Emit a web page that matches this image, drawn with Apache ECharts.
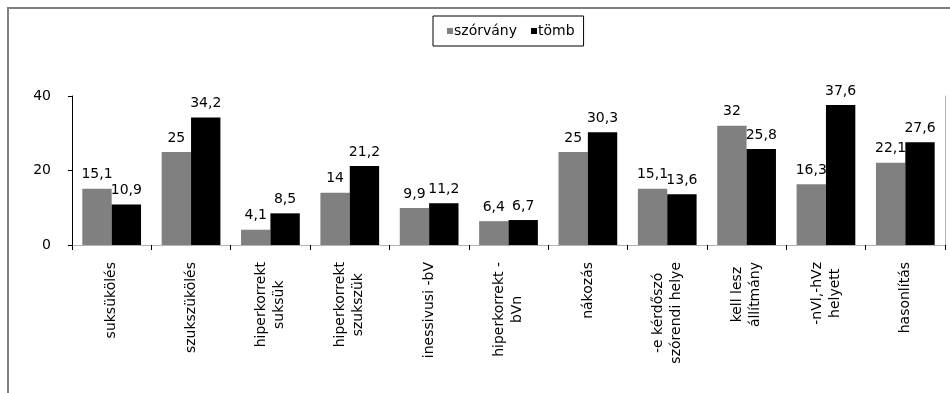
<!DOCTYPE html>
<html>
<head>
<meta charset="utf-8">
<script src="https://cdn.jsdelivr.net/npm/echarts@6/dist/echarts.min.js"></script>
<style>
  html, body { margin: 0; padding: 0; background: #fff; }
  #chart { width: 950px; height: 393px; }
</style>
</head>
<body>
<div id="chart"></div>
<script>
// Categories (line breaks as in the axis labels)
const categories = [
  'suksükölés',
  'szukszükölés',
  'hiperkorrekt\nsuksük',
  'hiperkorrekt\nszukszük',
  'inessivusi -bV',
  'hiperkorrekt -\nbVn',
  'nákozás',
  '-e kérdőszó\nszórendi helye',
  'kell lesz\nállítmány',
  '-nVl,-hVz\nhelyett',
  'hasonlítás'
];

// Series values
const szorvany = [15.1, 25, 4.1, 14, 9.9, 6.4, 25, 15.1, 32, 16.3, 22.1];
const tomb = [10.9, 34.2, 8.5, 21.2, 11.2, 6.7, 30.3, 13.6, 25.8, 37.6, 27.6];

// Value axis ticks
const yTicks = [0, 20, 40];

const FONT = 'DejaVu Sans';
const hu = v => String(v).replace('.', ',');

const chart = echarts.init(document.getElementById('chart'), null, { renderer: 'canvas' });

const valueLabel = {
  show: true,
  position: 'top',
  distance: 7,
  color: '#000',
  fontFamily: FONT,
  fontSize: 14,
  formatter: p => hu(p.value)
};

chart.setOption({
  animation: false,
  backgroundColor: '#fff',
  graphic: [{
    type: 'rect',
    shape: { x: 8, y: 8, width: 960, height: 420 },
    style: { fill: 'none', stroke: '#7f7f7f', lineWidth: 2 },
    silent: true
  }],
  legend: {
    left: 433,
    top: 16,
    padding: [6, 9, 6, 14],
    borderColor: '#000',
    borderWidth: 1,
    itemWidth: 6,
    itemHeight: 6,
    itemGap: 14,
    icon: 'rect',
    textStyle: { fontFamily: FONT, fontSize: 14, color: '#000', lineHeight: 18, padding: [0, 0, 0, -4] },
    data: ['szórvány', 'tömb']
  },
  grid: { left: 72, right: 5, top: 96, bottom: 148 },
  xAxis: [{
    type: 'category',
    data: categories,
    axisLine: { lineStyle: { color: '#000', width: 1 } },
    axisTick: { show: true, length: 5, interval: 0, lineStyle: { color: '#000' } },
    axisLabel: {
      interval: 0,
      rotate: 90,
      margin: 17,
      color: '#000',
      fontFamily: FONT,
      fontSize: 14,
      formatter: v => v.split('\n').map(s => '{c|' + s + '}').join('\n'),
      rich: { c: { align: 'center', fontFamily: FONT, fontSize: 14, lineHeight: 18, color: '#000' } }
    },
    splitLine: { show: false }
  }, {
    type: 'category',
    data: categories,
    position: 'top',
    axisLine: { lineStyle: { color: '#b3b3b3', width: 1 } },
    axisTick: { show: false },
    axisLabel: { show: false }
  }],
  yAxis: [{
    type: 'value',
    min: 0,
    max: 40,
    interval: 20,
    axisLine: { show: true, lineStyle: { color: '#000', width: 1 } },
    axisTick: { show: true, length: 4, lineStyle: { color: '#000' } },
    axisLabel: {
      margin: 21,
      color: '#000',
      fontFamily: FONT,
      fontSize: 14,
      formatter: v => (yTicks.includes(v) ? String(v) : '')
    },
    splitLine: { show: false }
  }, {
    type: 'value',
    position: 'right',
    min: 0,
    max: 40,
    interval: 20,
    axisLine: { show: true, lineStyle: { color: '#b3b3b3', width: 1 } },
    axisTick: { show: false },
    axisLabel: { show: false },
    splitLine: { show: false }
  }],
  series: [{
    name: 'szórvány',
    type: 'bar',
    data: szorvany,
    barGap: '0%',
    barCategoryGap: '26%',
    itemStyle: { color: '#808080' },
    label: valueLabel
  }, {
    name: 'tömb',
    type: 'bar',
    data: tomb,
    barGap: '0%',
    barCategoryGap: '26%',
    itemStyle: { color: '#000' },
    label: valueLabel
  }]
});
</script>
</body>
</html>
